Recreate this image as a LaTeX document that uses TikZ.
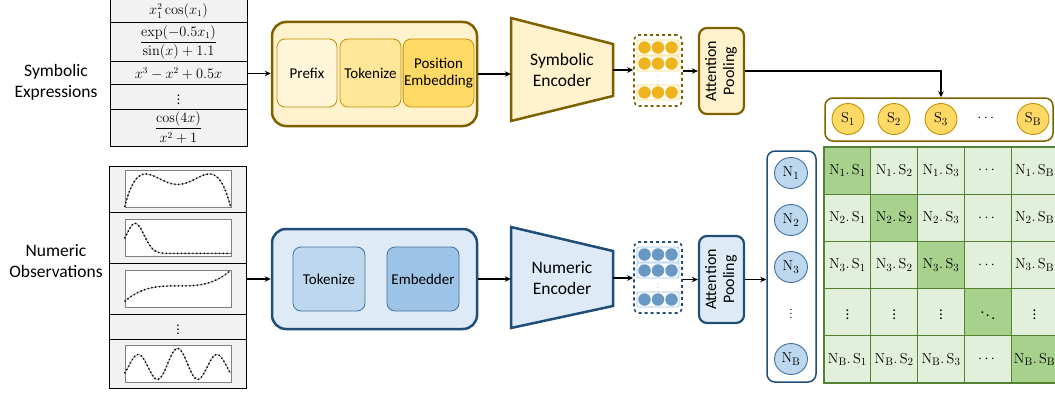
\documentclass[tikz,border=0pt]{standalone}
\usepackage[no-math]{fontspec}
\setmainfont{Carlito}
\usepackage{amsmath}
\usepackage{graphicx}
\usepackage{xcolor}
\usepackage{tikz}
\usetikzlibrary{shapes.geometric,arrows.meta,positioning,calc}

\definecolor{symdark}{HTML}{7F6000}
\definecolor{symmid}{HTML}{BF9000}
\definecolor{symfill}{HTML}{FFF2CC}
\definecolor{sympale}{HTML}{FFF6DA}
\definecolor{symtok}{HTML}{FFE699}
\definecolor{sympos}{HTML}{FFD966}
\definecolor{symdot}{HTML}{EFB41C}
\definecolor{numdark}{HTML}{1F4E79}
\definecolor{numline}{HTML}{41719C}
\definecolor{numfill}{HTML}{DEEBF7}
\definecolor{numtok}{HTML}{BDD7EE}
\definecolor{numemb}{HTML}{9DC3E6}
\definecolor{numdot}{HTML}{6A98C4}
\definecolor{cellline}{HTML}{548235}
\definecolor{celllight}{HTML}{E2EFDA}
\definecolor{celldark}{HTML}{A9D18E}
\definecolor{tablegray}{HTML}{F2F2F2}

\begin{document}
\begin{tikzpicture}[
  x=1pt, y=-1pt,
  sidelabel/.style={align=center, font=\fontsize{17.5}{21}\selectfont},
  exprow/.style={draw, fill=tablegray, line width=1pt, minimum width=137pt,
                 inner sep=0pt, font=\fontsize{13.5}{15}\selectfont},
  plotbox/.style={draw=gray, fill=white, line width=0.8pt, minimum width=106pt,
                  minimum height=37pt, inner sep=0pt},
  curvebg/.style={gray, line width=0.6pt},
  curvept/.style={black, line width=1.5pt, dash pattern=on 1.2pt off 2.6pt},
  bigbox/.style={line width=2.5pt, rounded corners=14pt, minimum width=205pt},
  stepbox/.style={line width=0.8pt, rounded corners=8pt, inner sep=1pt,
                  align=center, font=\fontsize{15}{17}\selectfont},
  enclabel/.style={minimum width=102pt, align=center, inner sep=0pt,
                   font=\fontsize{17.5}{21}\selectfont},
  encshape/.style={line width=2.5pt, line join=miter},
  tokbox/.style={dashed, draw, line width=1.6pt, rounded corners=5pt,
                 minimum width=48pt, minimum height=71pt, fill=white},
  tokrow/.style={draw, line width=0.8pt, rounded corners=2pt, minimum width=42pt,
                 minimum height=15pt, inner sep=0pt, fill=white},
  tokdot/.style={circle, inner sep=0pt, minimum size=12.5pt},
  smalldots/.style={text=gray, font=\fontsize{6}{7}\selectfont, inner sep=0pt},
  pool/.style={draw, line width=2.2pt, rounded corners=8pt, minimum width=45pt,
               inner sep=0pt, font=\fontsize{16}{18}\selectfont},
  holder/.style={draw, fill=white, line width=1.5pt, rounded corners=8pt},
  embcirc/.style={ellipse, draw, line width=0.9pt, minimum width=33pt,
                  minimum height=31pt, inner sep=0pt, font=\fontsize{15}{17}\selectfont},
  cell/.style={draw=cellline, line width=1.1pt, minimum width=46.8pt,
               minimum height=47.2pt, inner sep=0pt, font=\fontsize{15}{17}\selectfont},
  offcell/.style={fill=celllight},
  diagcell/.style={fill=celldark},
  ar/.style={-{Stealth[length=6pt, width=5.5pt]}, line width=1.3pt}
]
  \useasboundingbox (0,0) rectangle (1055,396);

  % symbolic expressions
  \node[sidelabel] (symlabel) at (56,82) {Symbolic\\Expressions};
  \node[exprow, minimum height=24pt] (e1) at (178.5,11) {$x_1^2\cos(x_1)$};
  \node[exprow, minimum height=39pt] (e2) at (178.5,42.5)
    {$\dfrac{\exp(-0.5x_1)}{\sin(x)+1.1}$};
  \node[exprow, minimum height=23pt] (e3) at (178.5,73.5) {$x^3-x^2+0.5x$};
  \node[exprow, minimum height=24pt] (e4) at (178.5,97) {$\vdots$};
  \node[exprow, minimum height=37pt] (e5) at (178.5,127.5) {$\dfrac{\cos(4x)}{x^2+1}$};

  % numeric observations
  \node[sidelabel] (numlabel) at (56,261) {Numeric\\Observations};
  \node[exprow, minimum height=46pt] (o1) at (178,189) {};
  \node[exprow, minimum height=51pt] (o2) at (178,237.5) {};
  \node[exprow, minimum height=51pt] (o3) at (178,288.5) {};
  \node[exprow, minimum height=25pt] (o4) at (178,326.5) {$\vdots$};
  \node[exprow, minimum height=49pt] (o5) at (178,363.5) {};
  \node[plotbox] (pl1) at (o1) {};
  \node[plotbox] (pl2) at (o2) {};
  \node[plotbox] (pl3) at (o3) {};
  \node[plotbox] (pl5) at (o5) {};
  \begin{scope}[shift={(pl1.south west)}]
    \draw[curvebg] plot[domain=0:1, samples=60, smooth]
      ({106*\x},{-(1+33*(0.75+1.93*(2*\x-1)*(2*\x-1)-2.68*(2*\x-1)*(2*\x-1)*(2*\x-1)*(2*\x-1))/1.1)});
    \draw[curvept] plot[domain=0:1, samples=60, smooth]
      ({106*\x},{-(1+33*(0.75+1.93*(2*\x-1)*(2*\x-1)-2.68*(2*\x-1)*(2*\x-1)*(2*\x-1)*(2*\x-1))/1.1)});
  \end{scope}
  \begin{scope}[shift={(pl2.south west)}]
    \draw[curvebg] plot[domain=0:1, samples=70, smooth]
      ({106*\x},{-(2+31*(0.03+0.97*exp(-((\x-0.1)/0.12)*((\x-0.1)/0.12))))});
    \draw[curvept] plot[domain=0:1, samples=70, smooth]
      ({106*\x},{-(2+31*(0.03+0.97*exp(-((\x-0.1)/0.12)*((\x-0.1)/0.12))))});
  \end{scope}
  \begin{scope}[shift={(pl3.south west)}]
    \draw[curvebg] plot[domain=0:1, samples=60, smooth]
      ({106*\x},{-(37*(0.58+0.42*(2*\x-1)*(2*\x-1)*(2*\x-1)))});
    \draw[curvept] plot[domain=0:1, samples=60, smooth]
      ({106*\x},{-(37*(0.58+0.42*(2*\x-1)*(2*\x-1)*(2*\x-1)))});
  \end{scope}
  \begin{scope}[shift={(pl5.south west)}]
    \draw[curvebg] plot[domain=0:1, samples=80, smooth]
      ({106*\x},{-(3+31*(1-0.35*(2*\x-1)*(2*\x-1))*(0.5+0.5*cos(5.26*180*(\x-0.5))))});
    \draw[curvept] plot[domain=0:1, samples=80, smooth]
      ({106*\x},{-(3+31*(1-0.35*(2*\x-1)*(2*\x-1))*(0.5+0.5*cos(5.26*180*(\x-0.5))))});
  \end{scope}

  % symbolic branch
  \node[bigbox, draw=symdark, fill=symfill, minimum height=104pt] (symbox) at (374.5,74) {};
  \node[stepbox, draw=symmid, fill=sympale, minimum width=60pt, minimum height=68pt]
    (prefix) at (307,73) {Prefix};
  \node[stepbox, draw=symmid, fill=symtok, minimum width=61pt, minimum height=68pt]
    (symtokz) at (370.5,73) {Tokenize};
  \node[stepbox, draw=symmid, fill=sympos, minimum width=69pt, minimum height=68pt]
    (posemb) at (438.5,73) {Position\\Embedding};
  \draw[encshape, draw=symdark, fill=symfill] (511,18) -- (613,44) -- (613,96) -- (511,121) -- cycle;
  \node[enclabel] (symenc) at (562,70) {Symbolic\\Encoder};
  \node[tokbox, draw=symdark] (symtok) at (658,70.5) {};
  \foreach \k/\yy in {1/47.5, 2/63.5, 3/92.5} {
    \node[tokrow, draw=sympos] (symrow\k) at (658,\yy) {};
    \foreach \j in {1,2,3}
      \node[tokdot, fill=symdot] (symdot\k\j) at ({658+13.5*(\j-2)},\yy) {};
  }
  \node[smalldots] (symvd) at (658,78) {$\vdots$};
  \node[pool, draw=symdark, fill=symfill, minimum height=86pt] (sympool) at (721.5,71)
    {\rotatebox{90}{\begin{tabular}{@{}c@{}}Attention\\Pooling\end{tabular}}};

  % numeric branch
  \node[bigbox, draw=numdark, fill=numfill, minimum height=100pt] (numbox) at (374.5,279) {};
  \node[stepbox, draw=numline, fill=numtok, minimum width=72pt, minimum height=64pt]
    (numtokz) at (329,279) {Tokenize};
  \node[stepbox, draw=numline, fill=numemb, minimum width=72pt, minimum height=64pt]
    (embedder) at (423,279) {Embedder};
  \draw[encshape, draw=numdark, fill=numfill] (511,227) -- (613,251) -- (613,306) -- (511,328) -- cycle;
  \node[enclabel] (numenc) at (562,278) {Numeric\\Encoder};
  \node[tokbox, draw=numdark] (numtok) at (658,277.5) {};
  \foreach \k/\yy in {1/254.5, 2/270.5, 3/299.5} {
    \node[tokrow, draw=numemb] (numrow\k) at (658,\yy) {};
    \foreach \j in {1,2,3}
      \node[tokdot, fill=numdot] (numdot\k\j) at ({658+13.5*(\j-2)},\yy) {};
  }
  \node[smalldots] (numvd) at (658,285) {$\vdots$};
  \node[pool, draw=numdark, fill=numfill, minimum height=87pt] (numpool) at (721.5,279.5)
    {\rotatebox{90}{\begin{tabular}{@{}c@{}}Attention\\Pooling\end{tabular}}};

  % embeddings S and N
  \node[holder, draw=symdark, minimum width=228pt, minimum height=43pt] (srow) at (939,119.5) {};
  \node[embcirc, draw=symmid, fill=sympos, minimum width=32pt] (s1) at (848,119) {$\mathrm{S}_1$};
  \node[embcirc, draw=symmid, fill=sympos, minimum width=32pt] (s2) at (894,119) {$\mathrm{S}_2$};
  \node[embcirc, draw=symmid, fill=sympos, minimum width=32pt] (s3) at (941,119) {$\mathrm{S}_3$};
  \node[font=\fontsize{15}{17}\selectfont] (sdots) at (987,118) {$\cdots$};
  \node[embcirc, draw=symmid, fill=sympos, minimum width=32pt] (sb) at (1033,119) {$\mathrm{S}_\mathrm{B}$};

  \node[holder, draw=numdark, minimum width=49pt, minimum height=231pt] (ncol) at (791.5,266.5) {};
  \node[embcirc, draw=numline, fill=numtok] (n1) at (791,173) {$\mathrm{N}_1$};
  \node[embcirc, draw=numline, fill=numtok] (n2) at (791,220) {$\mathrm{N}_2$};
  \node[embcirc, draw=numline, fill=numtok] (n3) at (791,267) {$\mathrm{N}_3$};
  \node[font=\fontsize{11}{13}\selectfont] (ndots) at (791,311) {$\vdots$};
  \node[embcirc, draw=numline, fill=numtok] (nb) at (791,359) {$\mathrm{N}_\mathrm{B}$};

  % similarity matrix
  \foreach \r/\rn in {0/1,1/2,2/3,3/,4/B} {
    \foreach \c/\cn in {0/1,1/2,2/3,3/,4/B} {
      \ifnum\r=\c \def\cellcol{diagcell}\else\def\cellcol{offcell}\fi
      \ifnum\r=3
        \ifnum\c=3 \def\celltxt{$\ddots$}\else\def\celltxt{$\vdots$}\fi
      \else
        \ifnum\c=3 \def\celltxt{$\cdots$}\else
          \def\celltxt{$\mathrm{N}_\mathrm{\rn}.\,\mathrm{S}_\mathrm{\cn}$}\fi
      \fi
      \node[cell, \cellcol] (m\r\c) at ({847.4+46.8*\c},{170.6+47.2*\r}) {\celltxt};
    }
  }

  % connectors
  \draw[ar] (e3.east) -- (e3.east -| symbox.west);
  \draw[ar] (o3.east |- numbox.west) -- (numbox.west);
  \draw[ar] (symbox.east) -- (symbox.east -| symenc.west);
  \draw[ar] (numbox.east) -- (numbox.east -| numenc.west);
  \draw[ar] (symenc.east) -- (symenc.east -| symtok.west);
  \draw[ar] (numenc.east) -- (numenc.east -| numtok.west);
  \draw[ar] (symtok.east |- sympool.west) -- (sympool.west);
  \draw[ar] (numtok.east |- numpool.west) -- (numpool.west);
  \draw[ar] (sympool.east) -| (srow.north -| s3);
  \draw[ar] (numpool.east) -- (numpool.east -| ncol.west);
\end{tikzpicture}
\end{document}
